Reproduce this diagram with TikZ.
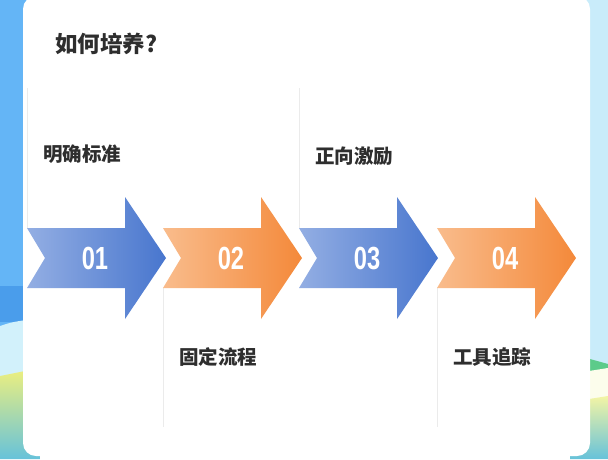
\documentclass[tikz,border=0pt]{standalone}
\usepackage{fontspec}
\newfontfamily\cjk{Noto Sans CJK SC}
\newfontfamily\numfont[FakeStretch=0.74]{Liberation Sans}
\usetikzlibrary{positioning}

\definecolor{sideblue}{HTML}{64B5F6}
\definecolor{sidedeep}{HTML}{4A9DEB}
\definecolor{sidecyan}{HTML}{D2F1FB}
\definecolor{sidelight}{HTML}{C9ECFA}
\definecolor{sidegreen}{HTML}{5CCB8A}
\definecolor{sideyellow}{HTML}{EEF07E}
\definecolor{sideteal}{HTML}{66C2DA}
\definecolor{bluelt}{HTML}{93AEE3}
\definecolor{bluedk}{HTML}{4876CE}
\definecolor{orangelt}{HTML}{F9BC8C}
\definecolor{orangedk}{HTML}{F4893A}
\definecolor{textgray}{HTML}{2E2E2E}
\definecolor{linegray}{HTML}{EBEBEB}

\tikzset{
  steplabel/.style={anchor=west, inner sep=0pt, text=textgray,
    font=\cjk\bfseries\fontsize{19.5}{19.5}\selectfont},
  stepnum/.style={inner sep=0pt, text=white,
    font=\numfont\bfseries\fontsize{32}{32}\selectfont},
  sepline/.style={draw=linegray, line width=0.7pt},
}

\begin{document}
\begin{tikzpicture}[x=1pt,y=-1pt]
\useasboundingbox (0,0) rectangle (608,459);
% side strips
\fill[sideblue] (0,0) rectangle (40,459);
\fill[sidedeep] (0,286) rectangle (40,322);
\fill[sidecyan] (0,326) .. controls (12,322) .. (40,318) -- (40,370) -- (0,378) -- cycle;
\shade[top color=sideyellow, bottom color=sideteal] (0,376) -- (40,368) -- (40,459) -- (0,459) -- cycle;
\fill[sidelight] (570,0) rectangle (608,459);
\fill[sidegreen] (590,359) -- (608,364) -- (608,368) -- (590,374) -- cycle;
\fill[white!85!sideyellow] (570,374) -- (608,368) -- (608,398) -- (570,404) -- cycle;
\shade[top color=sideyellow!70!white, bottom color=sideteal] (570,402) -- (608,396) -- (608,459) -- (570,459) -- cycle;
% panel
\fill[white, rounded corners=13] (23,-4) rectangle (590,456);

\node[anchor=west, inner sep=0pt, text=textgray,
  font=\cjk\bfseries\fontsize{22.5}{22.5}\selectfont] (title) at (55,44) {如何培养?};

\foreach \i/\L/\col/\ya/\yb/\ly/\txt in {1/27/blue/88/228/154/明确标准,
    2/163/orange/288/427/357/固定流程, 3/299/blue/88/228/156/正向激励,
    4/437/orange/288/427/357/工具追踪}{
  \coordinate (top\i) at (\L,\ya);
  \coordinate (bot\i) at (\L,\yb);
  \draw[sepline] (top\i) -- (bot\i);
  \shade[left color=\col lt, right color=\col dk]
    (\L,228) -- (\L+98,228) -- (\L+98,197) -- (\L+139,258) -- (\L+98,319)
    -- (\L+98,288) -- (\L,288) -- (\L+18,258) -- cycle;
  \node[stepnum] (num\i) at (\L+68,258) {0\i};
  \node[steplabel] (lab\i) at (\L+16,\ly) {\txt};
}
\end{tikzpicture}
\end{document}
